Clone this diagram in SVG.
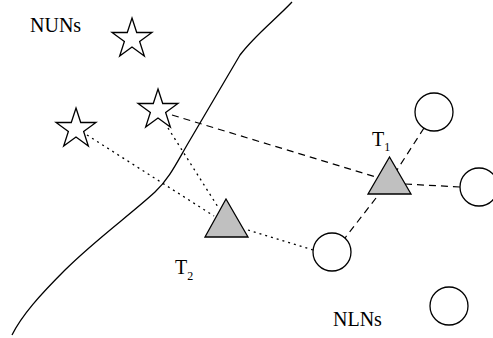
<svg xmlns="http://www.w3.org/2000/svg" width="493" height="338" viewBox="0 0 493 338">
<defs>
<style>
.star{fill:#fff;stroke:#000;stroke-width:1.3;stroke-linejoin:miter}
.tri{fill:#c0c0c0;stroke:#000;stroke-width:1.3}
.circ{fill:#fff;stroke:#000;stroke-width:1.3}
.dash{stroke:#000;stroke-width:1.2;stroke-dasharray:7 5;fill:none}
.dot{stroke:#000;stroke-width:1.3;stroke-dasharray:2 4;fill:none}
.lbl{font-family:"Liberation Serif",serif;font-size:20px;fill:#000}
.sub{font-family:"Liberation Serif",serif;font-size:12px;fill:#000}
</style>
<polygon id="starShape" points="0,-21 4.72,-6.49 19.97,-6.49 7.63,2.48 12.34,16.99 0,8.02 -12.34,16.99 -7.63,2.48 -19.97,-6.49 -4.72,-6.49"/>
</defs>
<path id="boundary" d="M292,2 C275,20 255,35 240,55 C225,80 205,115 190,140 C178,160 170,178 155,192 C130,215 95,240 65,270 C40,295 22,315 12,335" fill="none" stroke="#000" stroke-width="1.3"/>
<g id="connectors">
<line class="dash" x1="172" y1="115" x2="376" y2="177"/>
<line class="dash" x1="424" y1="128" x2="397" y2="170"/>
<line class="dash" x1="405" y1="184" x2="460" y2="187"/>
<line class="dash" x1="376" y1="198" x2="345" y2="238"/>
<line class="dot" x1="87" y1="135" x2="214" y2="216"/>
<line class="dot" x1="168" y1="128" x2="218" y2="207"/>
<line class="dot" x1="248" y1="230" x2="313" y2="250"/>
</g>
<g id="star1"><use href="#starShape" class="star" transform="translate(132,39)"/></g>
<g id="star2"><use href="#starShape" class="star" transform="translate(158,110)"/></g>
<g id="star3"><use href="#starShape" class="star" transform="translate(76,129)"/></g>
<g id="T1"><polygon class="tri" points="389.5,157 368,194 411,194"/></g>
<g id="T2"><polygon class="tri" points="226,199 205,237 248,237"/></g>
<g id="circle1"><circle class="circ" cx="434" cy="112" r="19"/></g>
<g id="circle2"><circle class="circ" cx="479" cy="187" r="19"/></g>
<g id="circle3"><circle class="circ" cx="332" cy="252" r="19"/></g>
<g id="circle4"><circle class="circ" cx="449" cy="306" r="19"/></g>
<g id="labels">
<text class="lbl" x="30" y="32">NUNs</text>
<text class="lbl" x="333" y="326">NLNs</text>
<text class="lbl" x="372" y="146">T<tspan class="sub" dy="5">1</tspan></text>
<text class="lbl" x="175" y="274">T<tspan class="sub" dy="6">2</tspan></text>
</g>
</svg>
